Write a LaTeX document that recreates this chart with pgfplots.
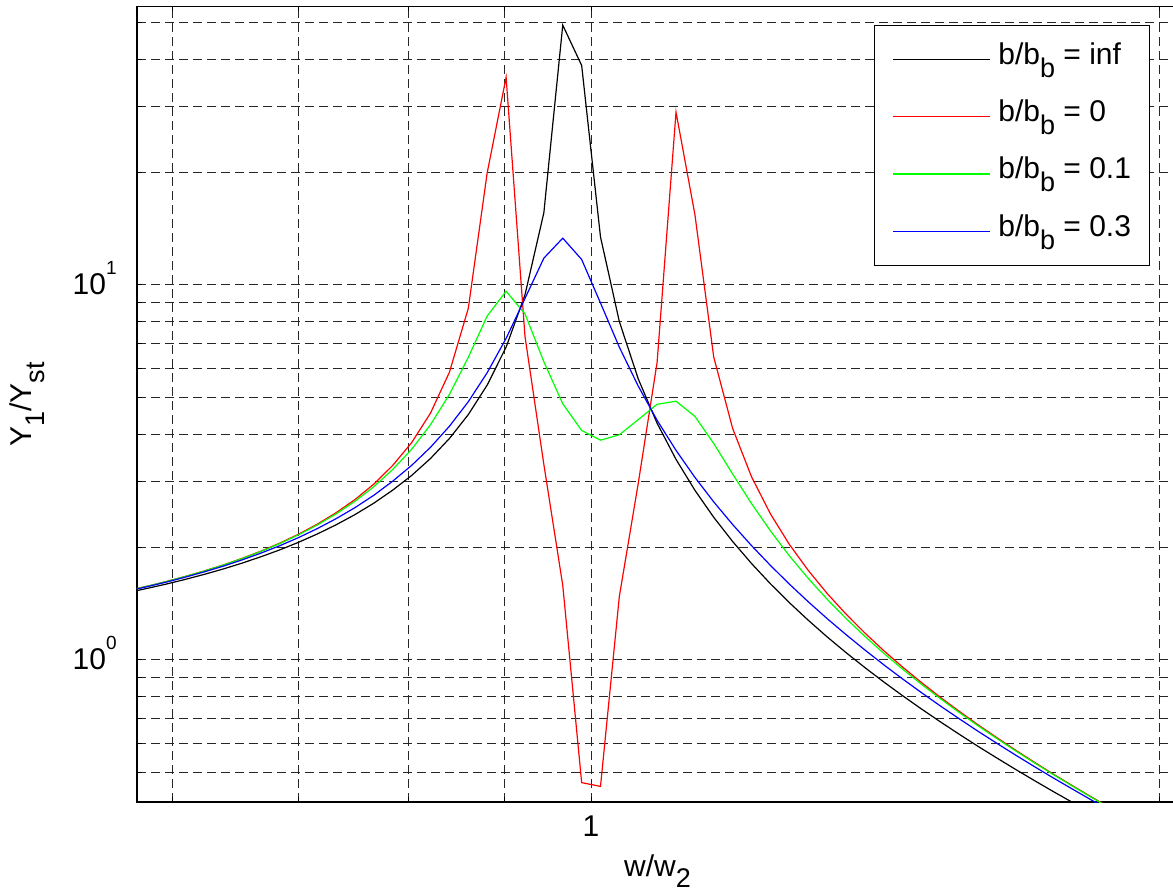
\documentclass[border=0pt]{standalone}
\usepackage{fontspec}
\setmainfont{Liberation Sans}
\usepackage{pgfplots}
\usepackage{pgfplotstable}
\pgfplotsset{compat=1.18}

% MATLAB-like sub/superscripts
\newcommand{\sub}[2][6.5pt]{\raisebox{-#1}{\fontsize{13.5}{13.5}\selectfont #2}}
\newcommand{\sups}[1]{\raisebox{10pt}{\fontsize{9.5}{9.5}\selectfont #1}}
\newcommand{\lblfont}{\fontsize{15}{18}\selectfont}

% w/w2 and Y1/Yst for the four damping ratios
\pgfplotstableread{
x      black   red     green   blue
0.5689 1.5146  1.5326  1.5321  1.5289
0.5821 1.5523  1.5735  1.5728  1.5688
0.5957 1.5938  1.6189  1.6181  1.6129
0.6095 1.6397  1.6697  1.6686  1.6620
0.6237 1.6906  1.7268  1.7253  1.7167
0.6383 1.7475  1.7913  1.7893  1.7781
0.6531 1.8113  1.8649  1.8621  1.8473
0.6683 1.8833  1.9495  1.9457  1.9259
0.6839 1.9651  2.0478  2.0424  2.0158
0.6998 2.0588  2.1635  2.1556  2.1193
0.7161 2.1668  2.3015  2.2899  2.2396
0.7328 2.2930  2.4693  2.4516  2.3808
0.7499 2.4418  2.6780  2.6499  2.5485
0.7674 2.6198  2.9451  2.8987  2.7502
0.7852 2.8363  3.3004  3.2196  2.9967
0.8035 3.1050  3.7988  3.6473  3.3032
0.8222 3.4469  4.5546  4.2419  3.6927
0.8414 3.8963  5.8529  5.1077  4.2006
0.8610 4.5122  8.6649  6.4137  4.8830
0.8810 5.4071  19.884  8.2609  5.8331
0.9016 6.8247  35.8    9.6222  7.2036
0.9226 9.4069  7.2982  8.3778  9.2039
0.9441 15.580  3.3219  6.2418  11.790
0.9661 49.3    1.5814  4.8227  13.33
0.9886 38.5    0.4709  4.0934  11.693
1.0116 13.43   0.4601  3.8560  8.9508
1.0351 7.9939  1.4758  3.9862  6.8274
1.0593 5.6142  2.9607  4.3752  5.3718
1.0839 4.2800  6.2117  4.8065  4.3579
1.1092 3.4272  28.9    4.8978  3.6231
1.1350 2.8356  15.435  4.4633  3.0698
1.1614 2.4015  6.4234  3.7787  2.6399
1.1885 2.0697  4.1436  3.1325  2.2971
1.2162 1.8081  3.0793  2.6124  2.0182
1.2445 1.5968  2.4527  2.2098  1.7876
1.2735 1.4227  2.0350  1.8974  1.5943
1.3032 1.2769  1.7342  1.6510  1.4304
1.3335 1.1532  1.5060  1.4531  1.2901
1.3646 1.0469  1.3261  1.2913  1.1691
1.3964 0.9548  1.1804  1.1563  1.0638
1.4289 0.8743  1.0596  1.0426  0.9716
1.4622 0.8033  0.9578  0.9456  0.8904
1.4962 0.7404  0.8708  0.8618  0.8185
1.5311 0.6843  0.7955  0.7887  0.7544
1.5668 0.6339  0.7298  0.7245  0.6971
1.6032 0.5886  0.6718  0.6678  0.6457
1.6406 0.5476  0.6204  0.6172  0.5993
1.6788 0.5104  0.5744  0.5719  0.5573
1.7179 0.4765  0.5332  0.5312  0.5191
1.7579 0.4455  0.4959  0.4943  0.4843
1.7989 0.4171  0.4622  0.4609  0.4526
1.8408 0.3910  0.4315  0.4304  0.4234
1.8836 0.3669  0.4035  0.4026  0.3967
1.9275 0.3447  0.3778  0.3771  0.3725
}\curves

\begin{document}
\begin{tikzpicture}
\begin{axis}[
  at={(0,0)}, anchor=south west,
  scale only axis, width=520.5pt, height=397.75pt,
  xmode=log, ymode=log,
  xmin=0.5748, xmax=2.046, ymin=0.4181, ymax=55.28,
  xtick={1}, xticklabels={1},
  ytick={1,10}, yticklabels={10\sups{0},10\sups{1}},
  minor xtick={0.6,0.7,0.8,0.9,2},
  minor ytick={0.5,0.6,0.7,0.8,0.9,2,3,4,5,6,7,8,9,20,30,40,50},
  grid=both,
  grid style={black!85, line width=0.5pt, dash pattern=on 4.5pt off 2.5pt},
  tick align=inside, major tick length=2.5pt, minor tick length=2.5pt,
  tick style={black, line width=0.5pt},
  axis line style={black, line width=0.6pt},
  xticklabel style={font=\lblfont, anchor=base, inner sep=0pt, yshift=-17pt},
  yticklabel style={font=\lblfont, anchor=base east, inner sep=0pt, xshift=-10pt, yshift=-5pt},
  xlabel={w/w\sub[5.5pt]{2}},
  ylabel={Y\sub{1}/Y\sub{st}},
  xlabel style={font=\lblfont, at={(axis description cs:0.5,0)}, anchor=base, yshift=-37pt},
  ylabel style={font=\lblfont, at={(axis description cs:-0.10115,0.5)}, anchor=base},
  legend cell align=left,
  legend image code/.code={\draw[#1] (0pt,0pt) -- (48.3pt,0pt);},
  legend style={at={(0.9731,0.9768)}, anchor=north east, draw=black, line width=0.6pt,
    fill=white, font=\lblfont, inner xsep=9.2pt, inner ysep=8.5pt, row sep=11.6pt,
    nodes={inner sep=0pt, text height=11pt, text depth=6pt},
    /tikz/every odd column/.append style={column sep=4pt}},
]
\addplot[black, line width=0.6pt] table[x=x, y=black] {\curves};
\addplot[red, line width=0.6pt] table[x=x, y=red] {\curves};
\addplot[green, line width=0.6pt] table[x=x, y=green] {\curves};
\addplot[blue, line width=0.6pt] table[x=x, y=blue] {\curves};
\legend{b/b\sub{b} = inf, b/b\sub{b} = 0, b/b\sub{b} = 0.1, b/b\sub{b} = 0.3}
\end{axis}
\pgfresetboundingbox
\path[use as bounding box] (-68.5pt,-44pt) rectangle (518pt,401pt);
\end{tikzpicture}
\end{document}
